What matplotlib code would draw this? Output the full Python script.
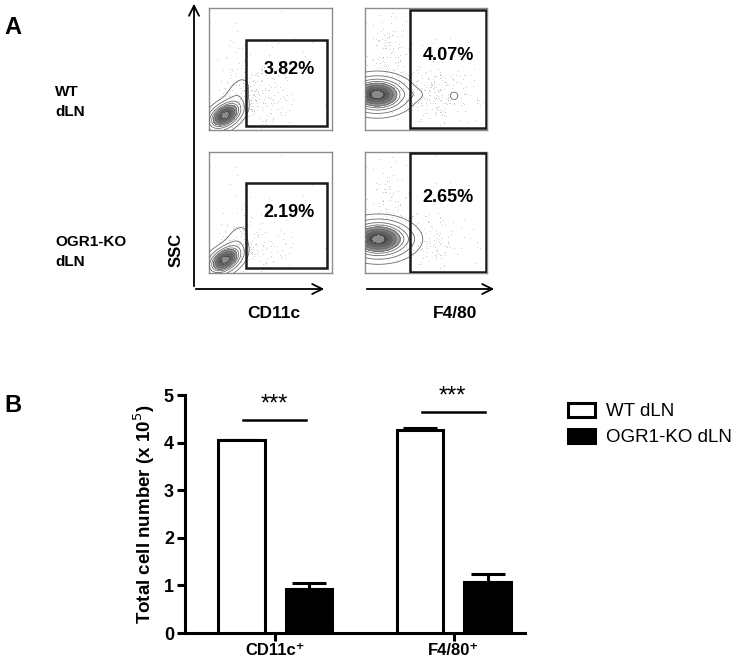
import numpy as np
import matplotlib
matplotlib.use("Agg")
import matplotlib.pyplot as plt
from matplotlib.patches import Rectangle, Patch, FancyArrowPatch

plt.rcParams['font.family'] = ['Liberation Sans', 'DejaVu Sans']

W, H = 735, 659
fig = plt.figure(figsize=(W / 100, H / 100), dpi=100)

def fx(px):
    return px / W

def fy(py):
    return 1 - py / H

# ---------------- Panel A data ----------------
row_labels = ['WT\ndLN', 'OGR1-KO\ndLN']
marker_labels = ['CD11c', 'F4/80']
gate_pcts = [['3.82%', '4.07%'], ['2.19%', '2.65%']]
# population components: (cx, cy, sx, sy, rho, weight)
pops = [
    [  # WT
        [(0.13, 0.12, 0.065, 0.055, 0.45, 1.0), (0.22, 0.26, 0.06, 0.09, 0.5, 0.05)],
        [(0.10, 0.29, 0.11, 0.065, 0.0, 1.0), (0.37, 0.29, 0.06, 0.03, 0.0, 0.035),
         (0.73, 0.28, 0.03, 0.03, 0.0, 0.02)],
    ],
    [  # KO
        [(0.13, 0.11, 0.065, 0.055, 0.45, 1.0), (0.21, 0.23, 0.06, 0.09, 0.5, 0.045)],
        [(0.11, 0.28, 0.12, 0.07, 0.0, 1.0), (0.33, 0.28, 0.06, 0.04, 0.0, 0.03)],
    ],
]
# speckle clouds: (cx, cy, sx, sy, weight)
speckle = [
    [[(0.42, 0.28, 0.12, 0.16, 1.0), (0.25, 0.35, 0.10, 0.15, 0.6)],
     [(0.55, 0.30, 0.18, 0.12, 1.0), (0.22, 0.60, 0.10, 0.18, 0.6)]],
    [[(0.40, 0.20, 0.14, 0.14, 0.7), (0.22, 0.30, 0.08, 0.15, 0.5)],
     [(0.52, 0.27, 0.18, 0.12, 0.8), (0.22, 0.55, 0.10, 0.18, 0.5)]],
]
gates = [
    [(0.30, 0.03, 0.96, 0.74), (0.37, 0.02, 0.99, 0.98)],
    [(0.30, 0.04, 0.96, 0.74), (0.37, 0.01, 0.99, 0.99)],
]
box_px = [
    [(209, 8, 332, 130), (365, 8, 487, 130)],
    [(209, 152, 332, 273), (365, 152, 487, 273)],
]

N = 300
gx = np.linspace(0, 1, N)
GX, GY = np.meshgrid(gx, gx)

def density(comps):
    d = np.zeros_like(GX)
    for cx, cy, sx, sy, rho, w in comps:
        dx = (GX - cx) / sx
        dy = (GY - cy) / sy
        q = (dx * dx - 2 * rho * dx * dy + dy * dy) / (1 - rho * rho)
        d += w * np.exp(-0.5 * q)
    return d

# deterministic hashed speckle positions (texture only)
n_pts = 40000
idx = np.arange(1, n_pts + 1, dtype=float)
qx = (np.sin(idx * 12.9898) * 43758.5453) % 1.0
qy = (np.sin(idx * 78.233) * 24634.6345) % 1.0
qa = (np.sin(idx * 39.3468) * 11813.1123) % 1.0

for r in range(2):
    for c in range(2):
        x0, y0, x1, y1 = box_px[r][c]
        ax = fig.add_axes([fx(x0), fy(y1), fx(x1 - x0), (y1 - y0) / H])
        ax.set_xlim(0, 1)
        ax.set_ylim(0, 1)
        ax.set_xticks([])
        ax.set_yticks([])
        for s in ax.spines.values():
            s.set_color('#8c8c8c')
            s.set_linewidth(1.0)
        sd = density([(a, b, sx, sy, 0.0, w) for a, b, sx, sy, w in speckle[r][c]])
        sd = sd / sd.max()
        ix = np.clip((qx * (N - 1)).astype(int), 0, N - 1)
        iy = np.clip((qy * (N - 1)).astype(int), 0, N - 1)
        p = (0.045 if r == 0 else 0.028) * sd[iy, ix] + 0.0006
        keep = qa < p
        ax.scatter(qx[keep], qy[keep], s=0.15, color='#8a8a8a', lw=0, zorder=1)
        d = density(pops[r][c])
        d = d / d.max()
        ax.contourf(GX, GY, d, levels=[0.35, 0.5, 0.65, 0.8, 0.93, 1.01],
                    colors=['#9a9a9a', '#7a7a7a', '#606060', '#4a4a4a', '#8a8a8a'], zorder=2)
        ax.contour(GX, GY, d, levels=[0.012, 0.06, 0.15, 0.25, 0.35, 0.5, 0.65, 0.8],
                   colors='#6a6a6a', linewidths=0.6, zorder=3)
        gx0, gy0, gx1, gy1 = gates[r][c]
        ax.add_patch(Rectangle((gx0, gy0), gx1 - gx0, gy1 - gy0, fill=False,
                               ec='#1a1a1a', lw=1.8, zorder=5))
        tx = (gx0 + gx1) / 2 + (0.02 if c == 0 else 0.0)
        ty = gy1 - (0.24 if c == 0 else 0.37)
        ax.text(tx, ty, gate_pcts[r][c], ha='center', va='center',
                fontsize=13, fontweight='bold', zorder=6)

# axis arrows
arrow_kw = dict(arrowstyle='->', color='black', lw=1.3, mutation_scale=18)
fig.add_artist(FancyArrowPatch((fx(194), fy(289)), (fx(194), fy(1)),
                               transform=fig.transFigure, **arrow_kw))
fig.add_artist(FancyArrowPatch((fx(193), fy(289)), (fx(327), fy(289)),
                               transform=fig.transFigure, **arrow_kw))
fig.add_artist(FancyArrowPatch((fx(364), fy(289)), (fx(497), fy(289)),
                               transform=fig.transFigure, **arrow_kw))

fig.text(fx(274), fy(314), marker_labels[0], ha='center', va='center', fontsize=12.5, fontweight='bold')
fig.text(fx(455), fy(314), marker_labels[1], ha='center', va='center', fontsize=12.5, fontweight='bold')
fig.text(fx(176), fy(250), 'SSC', ha='center', va='center', rotation=90, fontsize=12, fontweight='bold')
fig.text(fx(55), fy(102), row_labels[0], ha='left', va='center', fontsize=11, fontweight='bold', linespacing=1.6)
fig.text(fx(55), fy(252), row_labels[1], ha='left', va='center', fontsize=11, fontweight='bold', linespacing=1.6)
fig.text(fx(4), fy(28), 'A', ha='left', va='center', fontsize=17, fontweight='bold')
fig.text(fx(4), fy(405), 'B', ha='left', va='center', fontsize=17, fontweight='bold')

# ---------------- Panel B data ----------------
categories = ['CD11c⁺', 'F4/80⁺']
groups = ['WT dLN', 'OGR1-KO dLN']
wt_vals = [4.05, 4.27]
wt_err = [0.0, 0.03]
ko_vals = [0.92, 1.08]
ko_err = [0.12, 0.15]
sig_line_y = [4.47, 4.64]
sig_text = ['***', '***']

axb = fig.add_axes([fx(185), fy(633), fx(525 - 185), (633 - 395) / H])
xc = np.arange(len(categories))
bw = 0.26
off = 0.19
axb.bar(xc - off, wt_vals, bw, color='white', edgecolor='black', linewidth=2.2, label=groups[0], zorder=3)
axb.bar(xc + off, ko_vals, bw, color='black', edgecolor='black', linewidth=2.2, label=groups[1], zorder=3)
axb.errorbar(xc - off, wt_vals, yerr=[[0] * 2, wt_err], fmt='none', ecolor='black',
             elinewidth=2.2, capsize=12, capthick=2.2, zorder=2)
axb.errorbar(xc + off, ko_vals, yerr=[[0] * 2, ko_err], fmt='none', ecolor='black',
             elinewidth=2.2, capsize=12, capthick=2.2, zorder=2)
for i in range(len(categories)):
    axb.plot([xc[i] - 0.18, xc[i] + 0.175], [sig_line_y[i]] * 2, color='black', lw=1.8, clip_on=False)
    axb.text(xc[i] - 0.005, sig_line_y[i] + 0.1, sig_text[i], ha='center', va='bottom',
             fontsize=17, clip_on=False)
axb.set_xlim(-0.506, 1.40)
axb.set_ylim(0, 5)
axb.set_yticks([0, 1, 2, 3, 4, 5])
axb.set_xticks(xc)
axb.set_xticklabels(categories)
for s in ['top', 'right']:
    axb.spines[s].set_visible(False)
for s in ['left', 'bottom']:
    axb.spines[s].set_linewidth(2.2)
axb.tick_params(axis='y', width=2.2, length=6, labelsize=13, pad=2)
axb.tick_params(axis='x', width=2.2, length=6, labelsize=12, pad=1, direction='out')
for lab in axb.get_yticklabels() + axb.get_xticklabels():
    lab.set_fontweight('bold')
axb.set_ylabel('Total cell number (x 10$^{5}$)', fontsize=13.5, fontweight='bold', labelpad=5)

handles = [Patch(facecolor='white', edgecolor='black', linewidth=2.2),
           Patch(facecolor='black', edgecolor='black', linewidth=2.2)]
fig.legend(handles, groups, loc='upper left', bbox_to_anchor=(fx(568), fy(403)),
           frameon=False, fontsize=13.5, handlelength=1.45, handleheight=0.75,
           handletextpad=0.6, labelspacing=0.45, borderaxespad=0, borderpad=0)

fig.savefig('out.png', dpi=100)
